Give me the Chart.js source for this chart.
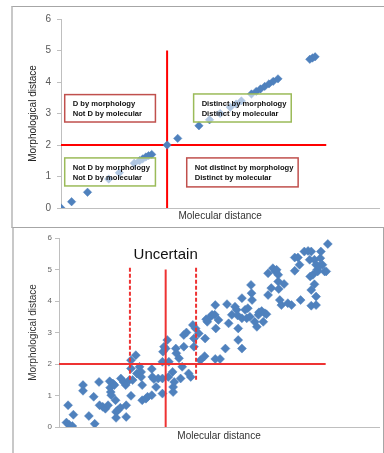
<!DOCTYPE html>
<html>
<head>
<meta charset="utf-8">
<script src="https://cdn.jsdelivr.net/npm/chart.js@4"></script>
<style>
  html, body { margin: 0; padding: 0; background: #fff; }
  #page { position: relative; width: 384px; height: 453px; overflow: hidden; background: #fff; }
  canvas { position: absolute; left: 0; }
  .frame { position: absolute; pointer-events: none; box-sizing: border-box; }
</style>
</head>
<body>
<div id="page">
  <canvas id="topChart" width="384" height="227" style="top:0;width:384px;height:227px"></canvas>
  <canvas id="bottomChart" width="384" height="226" style="top:227px;width:384px;height:226px"></canvas>
  <div class="frame" style="left:11px;top:6px;width:373px;height:222px;border-top:1px solid #a6a6a6;border-left:2px solid #c8c8c8;border-bottom:1px solid #a6a6a6"></div>
  <div class="frame" style="left:12px;top:228px;width:372px;height:225px;border-left:2px solid #c8c8c8;border-right:1px solid #a6a6a6"></div>
</div>
<script>
// ---- data: top panel (idealised, points on the diagonal)
const topMolecular = [0, 0.2, 0.5, 0.9, 1.1, 1.38, 1.48, 1.54, 1.6, 1.65, 1.71, 2.0, 2.2, 2.6, 2.8,
  3.0, 3.19, 3.3, 3.4, 3.59, 3.68, 3.76, 3.84, 3.92, 4.0, 4.09, 4.69, 4.74, 4.79];
const topMorph = [0, 0.2, 0.5, 0.92, 1.12, 1.42, 1.5, 1.56, 1.62, 1.66, 1.7, 2.0, 2.21, 2.61, 2.8,
  3.0, 3.2, 3.3, 3.4, 3.62, 3.7, 3.78, 3.86, 3.94, 4.02, 4.1, 4.72, 4.76, 4.8];

// ---- data: bottom panel (observed pairs)
const bottomMolecular = [0.17, 0.14, 0.19, 0.25, 0.27, 0.45, 0.45, 0.56, 0.65, 0.67, 0.75, 0.76, 0.82, 0.87, 0.92,
  0.95, 0.96, 0.97, 0.98, 1.01, 1.04, 1.06, 1.07, 1.07, 1.10, 1.15, 1.16, 1.21, 1.25, 1.26, 1.26,
  1.32, 1.35, 1.35, 1.35, 1.38, 1.44, 1.46, 1.51, 1.54, 1.54, 1.56, 1.56, 1.63, 1.66, 1.74, 1.74,
  1.75, 1.78, 1.82, 1.86, 1.94, 1.94, 1.94, 1.95, 1.97, 2.00, 2.03, 2.05, 2.06, 2.13, 2.14, 2.14,
  2.16, 2.19, 2.20, 2.25, 2.28, 2.31, 2.34, 2.34, 2.39, 2.43, 2.47, 2.51, 2.53, 2.53, 2.56, 2.62,
  2.65, 2.73, 2.74, 2.78, 2.76, 2.84, 2.87, 2.92, 2.93, 2.94, 2.99, 2.93, 3.02, 3.12, 3.15, 3.18,
  3.24, 3.30, 3.33, 3.35, 3.36, 3.36, 3.43, 3.43, 3.43, 3.49, 3.52, 3.54, 3.58, 3.60, 3.61, 3.62,
  3.67, 3.71, 3.74, 3.75, 3.80, 3.83, 3.86, 3.89, 3.92, 3.92, 3.98, 4.01, 4.06, 4.08, 4.11, 4.11,
  4.12, 4.14, 4.17, 4.22, 4.29, 4.36, 4.42, 4.42, 4.48, 4.51, 4.53, 4.60, 4.67, 4.70, 4.73, 4.71,
  4.73, 4.73, 4.76, 4.79, 4.79, 4.82, 4.82, 4.82, 4.84, 4.85, 4.88, 4.90, 4.91, 4.94, 4.98, 5.01, 5.04];
const bottomMorph = [0.69, 0.14, 0.07, 0.03, 0.39, 1.33, 1.15, 0.35, 0.96, 0.10, 1.43, 0.69, 0.64, 0.58, 0.69,
  1.45, 1.25, 1.11, 1.01, 1.38, 1.33, 0.85, 0.48, 0.29, 0.53, 0.61, 1.54, 1.43, 1.33, 0.32, 0.69,
  1.49, 0.99, 1.86, 2.12, 1.49, 2.28, 1.70, 1.91, 1.75, 1.59, 1.33, 0.85, 0.90, 0.96, 1.01, 1.84,
  1.59, 1.52, 1.27, 1.54, 1.06, 1.54, 2.07, 2.39, 2.55, 2.49, 2.76, 1.59, 2.07, 1.75, 1.27, 1.11,
  1.43, 2.49, 2.34, 2.18, 1.54, 1.91, 2.55, 2.92, 3.00, 1.70, 1.59, 3.24, 2.81, 2.55, 3.13, 2.97,
  2.12, 2.25, 2.81, 3.34, 3.42, 3.50, 3.56, 3.56, 3.87, 3.13, 3.40, 2.16, 2.16, 2.49, 3.90, 3.29,
  3.56, 3.82, 3.72, 3.54, 3.13, 2.76, 4.09, 2.49, 3.45, 3.72, 3.45, 3.77, 3.50, 4.51, 4.25, 4.03,
  3.34, 3.18, 3.56, 3.64, 3.68, 3.34, 3.61, 3.58, 4.88, 4.19, 4.41, 5.04, 4.94, 4.99, 4.83, 4.62,
  4.38, 4.03, 3.87, 4.54, 3.93, 3.87, 5.38, 4.96, 5.38, 5.15, 4.03, 5.57, 5.59, 5.31, 5.57, 4.78,
  4.35, 3.85, 4.83, 5.31, 4.53, 5.15, 4.14, 3.87, 4.99, 4.94, 5.10, 5.36, 5.57, 5.15, 4.94, 4.94, 5.81];

// thresholds and guide lines
const threshold = 2;
const guideEnd = 5;
const uncertainBounds = [1.33, 2.57];
const uncertainSpan = [1.5, 5.1];

const quadrantText = [
  ['D by morphology', 'Not D by molecular'],
  ['Distinct by morphology', 'Distinct by molecular'],
  ['Not D by morphology', 'Not D by molecular'],
  ['Not distinct by morphology', 'Distinct by molecular']
];

const FONT = "'Liberation Sans', Arial, sans-serif";
const BLUE = '#4F81BD';

function toPoints(xs, ys) {
  return xs.map((x, i) => ({ x: x, y: ys[i] }));
}

function lineSet(points, color, dash, order) {
  return {
    type: 'line', data: points, borderColor: color, borderWidth: 2,
    borderDash: dash || [], pointRadius: 0, fill: false, order: order, tension: 0
  };
}

function baseScales(cfg) {
  return {
    x: {
      type: 'linear', min: 0, max: 6,
      ticks: { display: false },
      grid: { display: false },
      border: { display: true, color: '#bfbfbf' },
      title: { display: true, text: 'Molecular distance', color: '#333',
        font: { family: FONT, size: 10 }, padding: { top: 0, bottom: cfg.xTitlePad } },
      afterFit: s => { s.height = cfg.xHeight; }
    },
    y: {
      min: 0, max: 6,
      ticks: { stepSize: 1, color: cfg.tickColor, padding: cfg.tickPad,
        font: { family: FONT, size: cfg.tickSize } },
      grid: { drawOnChartArea: false, drawTicks: true, tickLength: 4, color: '#bfbfbf' },
      border: { display: true, color: '#bfbfbf' },
      title: { display: true, text: 'Morphological distace', color: cfg.titleColor,
        font: { family: FONT, size: 10 }, padding: { top: 27, bottom: 0 } },
      afterFit: s => { s.width = cfg.yWidth; }
    }
  };
}

// boxes with quadrant descriptions, over the points
const boxPlugin = {
  id: 'boxes',
  afterDatasetsDraw(chart) {
    const { ctx, scales: { x, y } } = chart;
    const boxes = [
      { x0: 0.07, x1: 1.78, y0: 3.6, y1: 2.73, color: '#C0504D' },
      { x0: 2.5, x1: 4.34, y0: 3.62, y1: 2.73, color: '#9BBB59' },
      { x0: 0.07, x1: 1.78, y0: 1.59, y1: 0.7, color: '#9BBB59' },
      { x0: 2.37, x1: 4.47, y0: 1.59, y1: 0.67, color: '#C0504D' }
    ];
    ctx.save();
    boxes.forEach((b, i) => {
      const l = x.getPixelForValue(b.x0), r = x.getPixelForValue(b.x1);
      const t = y.getPixelForValue(b.y0), btm = y.getPixelForValue(b.y1);
      ctx.fillStyle = 'rgba(255,255,255,0.55)';
      ctx.fillRect(l, t, r - l, btm - t);
      ctx.strokeStyle = b.color;
      ctx.lineWidth = 1.5;
      ctx.strokeRect(l, t, r - l, btm - t);
      ctx.fillStyle = '#111';
      ctx.font = 'bold 7.6px ' + FONT;
      ctx.textBaseline = 'middle';
      ctx.textAlign = 'left';
      quadrantText[i].forEach((line, k) => {
        ctx.fillText(line, l + 8, t + 9.5 + k * 10);
      });
    });
    ctx.restore();
  }
};

const uncertainPlugin = {
  id: 'uncertain',
  afterDatasetsDraw(chart) {
    const { ctx, scales: { x, y } } = chart;
    ctx.save();
    ctx.fillStyle = '#111';
    ctx.font = '15px ' + FONT;
    ctx.textAlign = 'center';
    ctx.textBaseline = 'middle';
    ctx.fillText('Uncertain', x.getPixelForValue(threshold), y.getPixelForValue(5.46));
    ctx.restore();
  }
};

new Chart(document.getElementById('topChart'), {
  type: 'scatter',
  data: {
    datasets: [
      {
        data: toPoints(topMolecular, topMorph),
        pointStyle: 'rectRot', pointRadius: 4.2, pointHoverRadius: 4.2,
        backgroundColor: BLUE, borderColor: BLUE, borderWidth: 0.5, order: 1
      },
      lineSet([{ x: threshold, y: 0 }, { x: threshold, y: guideEnd }], '#ff0000', null, 2),
      lineSet([{ x: 0, y: threshold }, { x: guideEnd, y: threshold }], '#ff0000', null, 2)
    ]
  },
  options: {
    responsive: false, animation: false,
    layout: { padding: { left: 0, right: 2, top: 19, bottom: 0 } },
    plugins: { legend: { display: false }, tooltip: { enabled: false } },
    scales: baseScales({ xTitlePad: 5, xHeight: 19, tickColor: '#595959', tickPad: 6,
      tickSize: 10, titleColor: '#222', yWidth: 61 })
  },
  plugins: [boxPlugin]
});

new Chart(document.getElementById('bottomChart'), {
  type: 'scatter',
  data: {
    datasets: [
      {
        data: toPoints(bottomMolecular, bottomMorph),
        pointStyle: 'rectRot', pointRadius: 4.5, pointHoverRadius: 4.5,
        backgroundColor: BLUE, borderColor: BLUE, borderWidth: 0.5, order: 2
      },
      lineSet([{ x: threshold, y: 0 }, { x: threshold, y: guideEnd }], '#ee3333', null, 1),
      lineSet([{ x: 0, y: threshold }, { x: guideEnd, y: threshold }], '#ee3333', null, 1),
      lineSet([{ x: uncertainBounds[0], y: uncertainSpan[0] }, { x: uncertainBounds[0], y: uncertainSpan[1] }], '#ee3333', [4, 2], 1),
      lineSet([{ x: uncertainBounds[1], y: uncertainSpan[0] }, { x: uncertainBounds[1], y: uncertainSpan[1] }], '#ee3333', [4, 2], 1)
    ]
  },
  options: {
    responsive: false, animation: false,
    layout: { padding: { left: 0, right: 2, top: 11, bottom: 0 } },
    plugins: { legend: { display: false }, tooltip: { enabled: false } },
    scales: baseScales({ xTitlePad: 11, xHeight: 26, tickColor: '#666', tickPad: 3,
      tickSize: 8, titleColor: '#333', yWidth: 59 })
  },
  plugins: [uncertainPlugin]
});
</script>
</body>
</html>
